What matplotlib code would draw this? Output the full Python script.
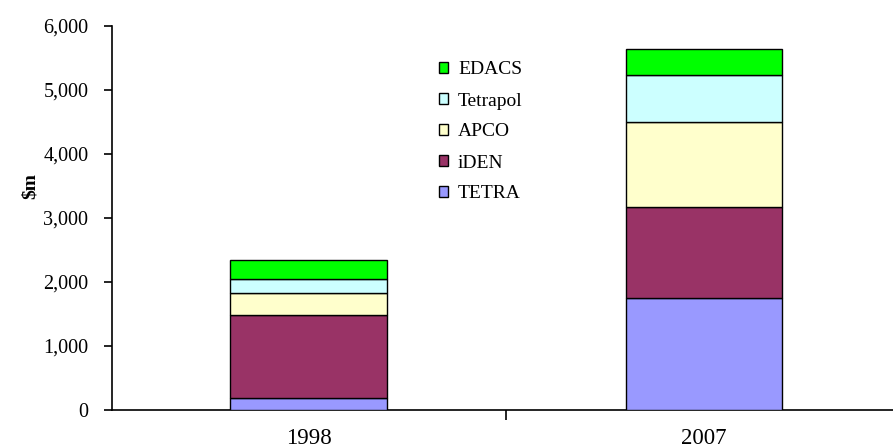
import matplotlib; matplotlib.use("Agg")
import matplotlib.pyplot as plt
import numpy as np

plt.rcParams["font.family"] = ["Liberation Serif", "DejaVu Serif"]

years = ["1998", "2007"]
series = ["TETRA", "iDEN", "APCO", "Tetrapol", "EDACS"]
tetra = [190, 1750]
iden = [1290, 1420]
apco = [350, 1330]
tetrapol = [220, 735]
edacs = [300, 400]
colors = ["#9999FF", "#993366", "#FFFFCC", "#CCFFFF", "#00FF00"]

W, H = 893, 448
fig = plt.figure(figsize=(W/100, H/100), dpi=100)
# axes box in pixels: left 112, right 893, bottom 410, top 26
ax = fig.add_axes([112/W, (H-410)/H, 781/W, 384/H])

x = np.arange(len(years))
bottom = np.zeros(len(years))
handles = []
for name, vals, col in zip(series, [tetra, iden, apco, tetrapol, edacs], colors):
    h = ax.bar(x, vals, width=0.395, bottom=bottom, color=col, edgecolor="black",
               linewidth=1.0, label=name, zorder=3)
    handles.append(h)
    bottom += np.array(vals)

ax.set_xlim(-0.497, 1.478)
ax.set_ylim(0, 6000)
ax.set_yticks(range(0, 6001, 1000))
ax.set_yticklabels([f"{v:,}" for v in range(0, 6001, 1000)], fontsize=14.5)
ax.set_xticks(x)
ax.set_xticklabels(years, fontsize=16.5)
ax.tick_params(axis="x", length=0, pad=13)
ax.set_xticks([0.5], minor=True)
ax.tick_params(axis="x", which="minor", length=7, direction="out", width=1.2)
ax.tick_params(axis="y", length=6, width=1.2, pad=11)
for s in ["top", "right"]:
    ax.spines[s].set_visible(False)
ax.spines["left"].set_linewidth(1.2)
ax.spines["bottom"].set_linewidth(1.2)

fig.text(30/W, (H-186)/H, "$m", rotation=90, ha="center", va="center",
         fontsize=14, fontweight="bold")

leg = ax.legend(handles[::-1], series[::-1], loc="upper left",
                bbox_to_anchor=(421/W, (H-44)/H), bbox_transform=fig.transFigure,
                frameon=False, fontsize=14, handlelength=0.5, handleheight=0.5,
                handletextpad=0.5, labelspacing=0.72)

plt.savefig("out.png", dpi=100)
